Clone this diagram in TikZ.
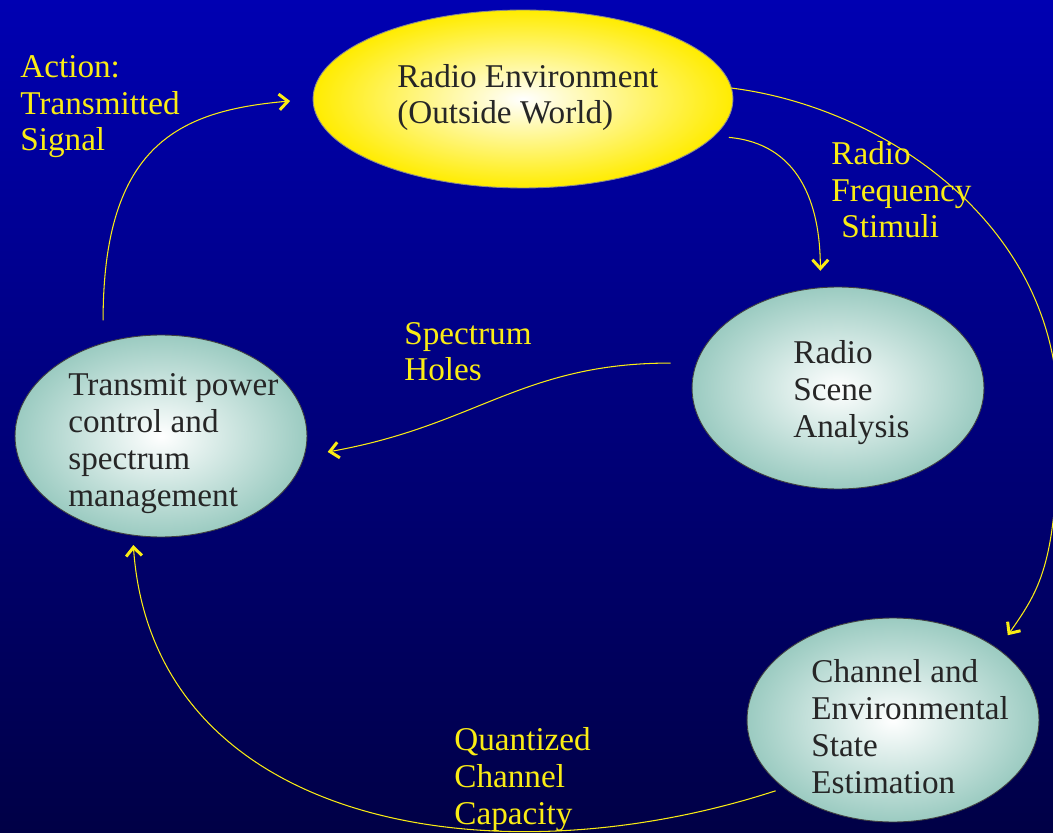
\documentclass[tikz,border=0pt]{standalone}
\usepackage{fontspec}
\setmainfont{Liberation Serif}
\usetikzlibrary{arrows.meta,shapes.geometric,calc}
\definecolor{bgtop}{RGB}{0,0,178}
\definecolor{bgbot}{RGB}{0,0,70}
\definecolor{sun}{RGB}{255,236,0}
\definecolor{sea}{RGB}{155,203,193}
\definecolor{ink}{RGB}{38,38,38}
\definecolor{gold}{RGB}{250,236,20}
\tikzset{
    >={Straight Barb[length=5pt,width=9pt,line width=1.7pt]},
    blob/.style={ellipse, draw=black!75, line width=0.5pt, inner sep=0pt, outer sep=0pt,
        inner color=white, outer color=sea},
    world/.style={blob, outer color=sun, draw=black!45},
    txt/.style={anchor=base west, align=left, inner sep=0pt, text=ink,
        font=\fontsize{18.9}{21}\selectfont},
    lbl/.style={txt, text=gold},
    flow/.style={->, draw=gold, line width=0.6pt},
}
\begin{document}
\begin{tikzpicture}[x=0.02cm, y=0.02cm]
    \useasboundingbox (0,0) rectangle (1053,832);
    \shade[top color=bgtop, bottom color=bgbot] (0,0) rectangle (1053,832);

    % the four stages (text placed by its last baseline)
    \node[world, minimum width=8.4cm, minimum height=3.56cm] (R) at (523,733) {};
    \node[blob, minimum width=5.84cm, minimum height=4.04cm] (S) at (838,444) {};
    \node[blob, minimum width=5.84cm, minimum height=4.04cm] (T) at (161,396) {};
    \node[blob, minimum width=5.84cm, minimum height=4.08cm] (C) at (893,112) {};

    \node[txt] (Rt) at ($(R)+(-126,-25)$) {Radio Environment\\(Outside World)};
    \node[txt] (St) at ($(S)+(-45,-49)$) {Radio\\Scene\\Analysis};
    \node[txt] (Tt) at ($(T)+(-93,-70)$) {Transmit power\\control and\\spectrum\\management};
    \node[txt] (Ct) at ($(C)+(-82,-73)$) {Channel and\\Environmental\\State\\Estimation};

    % what goes round the cycle
    \node[lbl] (A) at (20,681) {Action:\\Transmitted\\Signal};
    \node[lbl] (F) at (831,594) {Radio\\Frequency\\\hspace*{0.3em}Stimuli};
    \node[lbl] (H) at (404,451) {Spectrum\\Holes};
    \node[lbl] (Q) at (454,8) {Quantized\\Channel\\Capacity};

    \coordinate (E) at (1058,420);

    \draw[flow, shorten <=0.46cm, shorten >=0.46cm]
        (T.122) to[out=90, in=185, out distance=4cm, in distance=2.66cm] (R.west);
    \draw[flow, shorten <=0.3cm, shorten >=0.34cm]
        (R.-11) to[out=-5, in=90, out distance=1.7cm, in distance=1.7cm] (S.100);
    \draw[flow, shorten >=0.34cm]
        (R.3) to[out=-7, in=90, out distance=3cm, in distance=3.8cm] (E)
        to[out=-90, in=55, out distance=3cm, in distance=1.5cm] (C.34);
    \draw[flow, shorten <=0.52cm, shorten >=0.48cm]
        (S.170) to[out=180, in=10, out distance=3.5cm, in distance=3.5cm] (T.-8);
    \draw[flow, shorten <=0.18cm, shorten >=0.2cm]
        (C.212) to[out=198, in=-86, out distance=6.2cm, in distance=5.8cm] (T.254);
\end{tikzpicture}
\end{document}
